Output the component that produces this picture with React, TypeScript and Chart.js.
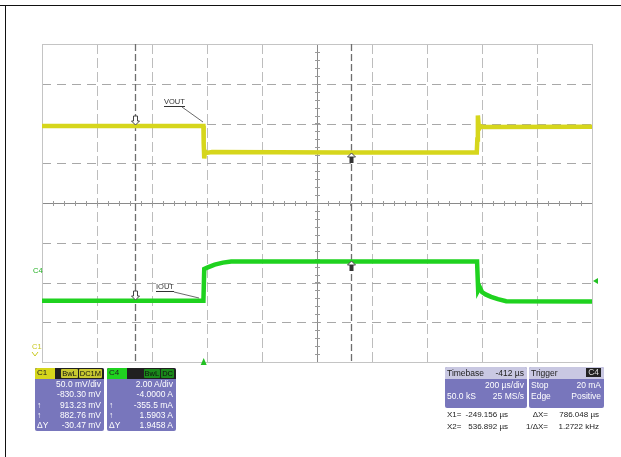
import React, { useEffect, useRef } from "react";
import { Chart, registerables } from "chart.js";

Chart.register(...registerables);

// ---- data (time in µs, level in screen divisions) ----
const timeWindow = [-588, 1412];
const timePerDiv = 200;
const yDivs = [-4, 4];

const yellowTimes = [-588, -1, 0, 2, 5, 10, 30, 500, 993, 995, 997, 1001, 1008, 1020, 1412];
const yellowLevels = [1.94, 1.94, 1.5, 1.12, 1.3, 1.26, 1.28, 1.27, 1.27, 1.6, 2.2, 1.86, 1.93, 1.91, 1.92];

const greenTimes = [-588, -1, 2, 15, 40, 70, 100, 600, 994, 998, 1004, 1012, 1025, 1045, 1070, 1100, 1412];
const greenLevels = [-2.46, -2.46, -1.66, -1.62, -1.55, -1.5, -1.47, -1.47, -1.47, -2.2, -2.12, -2.24, -2.3, -2.36, -2.42, -2.47, -2.48];

const cursorTimes = [-249.156, 536.892];
const triggerTime = [0];

const c1Rows = ["50.0 mV/div", "-830.30 mV", "913.23 mV", "882.76 mV", "-30.47 mV"];
const c4Rows = ["2.00 A/div", "-4.0000 A", "-355.5 mA", "1.5903 A", "1.9458 A"];
const rowLabels = ["", "", "↑", "↑", "ΔY"];
const timebaseRows = ["Timebase", "-412 µs", "", "200 µs/div", "50.0 kS", "25 MS/s"];
const triggerRows = ["Trigger", "C4", "Stop", "20 mA", "Edge", "Positive"];
const cursorReadout = [
  ["X1=", "-249.156 µs", "ΔX=", "786.048 µs"],
  ["X2=", "536.892 µs", "1/ΔX=", "1.2722 kHz"],
];

const YELLOW = "#d6d61c";
const GREEN = "#1fd21f";

function interp(ts: number[], vs: number[], t: number) {
  for (let i = 0; i < ts.length - 1; i++) {
    if (t >= ts[i] && t <= ts[i + 1]) {
      const f = (t - ts[i]) / (ts[i + 1] - ts[i] || 1);
      return vs[i] + f * (vs[i + 1] - vs[i]);
    }
  }
  return vs[vs.length - 1];
}

const gridPlugin = {
  id: "scopeGrid",
  beforeDatasetsDraw(chart: any) {
    const { ctx, chartArea: a, scales } = chart;
    const x = scales.x;
    const y = scales.y;
    ctx.save();
    ctx.lineWidth = 1;
    // dashed verticals
    ctx.strokeStyle = "#bdbdbd";
    ctx.setLineDash([10, 4]);
    for (let k = 1; k < 10; k++) {
      if (k === 5) continue;
      const px = Math.round(x.getPixelForValue(timeWindow[0] + k * timePerDiv)) + 0.5;
      ctx.beginPath();
      ctx.moveTo(px, a.top);
      ctx.lineTo(px, a.bottom);
      ctx.stroke();
    }
    // dashed horizontals
    ctx.strokeStyle = "#a8a8a8";
    ctx.setLineDash([9, 6]);
    for (let d = yDivs[0] + 1; d < yDivs[1]; d++) {
      if (d === 0) continue;
      const py = Math.round(y.getPixelForValue(d)) + 0.5;
      ctx.beginPath();
      ctx.moveTo(a.left, py);
      ctx.lineTo(a.right, py);
      ctx.stroke();
    }
    ctx.setLineDash([]);
    // centre axes
    ctx.strokeStyle = "#8a8a8a";
    const cx = Math.round(x.getPixelForValue((timeWindow[0] + timeWindow[1]) / 2)) + 0.5;
    const cy = Math.round(y.getPixelForValue(0)) + 0.5;
    ctx.beginPath();
    ctx.moveTo(cx, a.top);
    ctx.lineTo(cx, a.bottom);
    ctx.moveTo(a.left, cy);
    ctx.lineTo(a.right, cy);
    ctx.stroke();
    // minor ticks
    ctx.strokeStyle = "#9a9a9a";
    ctx.beginPath();
    for (let d = yDivs[0]; d <= yDivs[1] + 1e-6; d += 0.2) {
      const py = Math.round(y.getPixelForValue(d)) + 0.5;
      ctx.moveTo(cx - 2.5, py);
      ctx.lineTo(cx + 2.5, py);
    }
    for (let t = timeWindow[0]; t <= timeWindow[1] + 1e-6; t += timePerDiv / 5) {
      const px = Math.round(x.getPixelForValue(t)) + 0.5;
      ctx.moveTo(px, cy - 2.5);
      ctx.lineTo(px, cy + 2.5);
    }
    ctx.stroke();
    // frame
    ctx.strokeStyle = "#c4c4c4";
    ctx.strokeRect(Math.round(a.left) + 0.5, Math.round(a.top) + 0.5, Math.round(a.width), Math.round(a.height));
    // cursors
    ctx.strokeStyle = "#6e6e6e";
    ctx.lineWidth = 1.3;
    ctx.setLineDash([7, 3]);
    cursorTimes.forEach((t) => {
      const px = Math.round(x.getPixelForValue(t)) + 0.5;
      ctx.beginPath();
      ctx.moveTo(px, a.top);
      ctx.lineTo(px, a.bottom);
      ctx.stroke();
    });
    ctx.restore();
  },
  afterDatasetsDraw(chart: any) {
    const { ctx, scales } = chart;
    const x = scales.x;
    const y = scales.y;
    ctx.save();
    ctx.lineWidth = 1;
    ctx.strokeStyle = "#444";
    ctx.fillStyle = "#ffffff";
    const traces = [
      [yellowTimes, yellowLevels],
      [greenTimes, greenLevels],
    ];
    cursorTimes.forEach((t, ci) => {
      traces.forEach(([ts, vs]) => {
        const px = Math.round(x.getPixelForValue(t)) + 0.5;
        const py = Math.round(y.getPixelForValue(interp(ts, vs, t)));
        if (ci === 0) {
          ctx.beginPath();
          ctx.moveTo(px - 2, py - 10);
          ctx.lineTo(px + 2, py - 10);
          ctx.lineTo(px + 2, py - 5);
          ctx.lineTo(px + 4, py - 5);
          ctx.lineTo(px, py - 1);
          ctx.lineTo(px - 4, py - 5);
          ctx.lineTo(px - 2, py - 5);
          ctx.closePath();
          ctx.fill();
          ctx.stroke();
        } else {
          ctx.beginPath();
          ctx.moveTo(px, py);
          ctx.lineTo(px + 4, py + 4);
          ctx.lineTo(px - 4, py + 4);
          ctx.closePath();
          ctx.fill();
          ctx.stroke();
          ctx.fillStyle = "#333";
          ctx.fillRect(px - 2, py + 4, 4, 6);
          ctx.fillStyle = "#ffffff";
        }
      });
    });
    // trigger marker at bottom
    const tx = x.getPixelForValue(triggerTime[0]);
    const by = chart.chartArea.bottom;
    ctx.fillStyle = "#22c022";
    ctx.beginPath();
    ctx.moveTo(tx, by - 4);
    ctx.lineTo(tx + 3, by + 3);
    ctx.lineTo(tx - 3, by + 3);
    ctx.closePath();
    ctx.fill();
    ctx.restore();
  },
};

const txt: React.CSSProperties = {
  position: "absolute",
  fontFamily: "'Liberation Sans', Arial, sans-serif",
  fontSize: 8.5,
  lineHeight: "10px",
  whiteSpace: "nowrap",
};

function ChannelPanel(props: { left: number; name: string; color: string; tags: string[]; rows: string[] }) {
  const { left, name, color, tags, rows } = props;
  return (
    <div style={{ position: "absolute", left, top: 368, width: 69, height: 63, background: "#7876bc", borderRadius: 2, overflow: "hidden" }}>
      <div style={{ position: "absolute", left: 0, top: 0, width: 69, height: 11, background: "#202020" }} />
      <div style={{ ...txt, left: 0, top: 0, width: 18, height: 11, background: color, color: "#222", paddingLeft: 2, fontSize: 8 }}>{name}</div>
      <div style={{ position: "absolute", right: 2, top: 1, display: "flex", gap: 1 }}>
        {tags.map((t, i) => (
          <span key={i} style={{ fontFamily: "'Liberation Sans', sans-serif", fontSize: 7.5, lineHeight: "9px", color: "#111", background: color === YELLOW ? "#c8c830" : "#1a8a1a", padding: "0 1px", borderRadius: 1 }}>{t}</span>
        ))}
      </div>
      {rows.map((r, i) => (
        <React.Fragment key={i}>
          {rowLabels[i] ? <div style={{ ...txt, left: 2, top: 11 + i * 10.3, color: "#ffffff" }}>{rowLabels[i]}</div> : null}
          <div style={{ ...txt, right: 3, top: 11 + i * 10.3, color: "#ffffff" }}>{r}</div>
        </React.Fragment>
      ))}
    </div>
  );
}

export default function App() {
  const ref = useRef<HTMLCanvasElement | null>(null);
  useEffect(() => {
    if (!ref.current) return;
    const chart = new Chart(ref.current, {
      type: "line",
      data: {
        datasets: [
          {
            label: "C1",
            data: yellowTimes.map((t, i) => ({ x: t, y: yellowLevels[i] })),
            borderColor: YELLOW,
            borderWidth: 4.5,
            pointRadius: 0,
            tension: 0,
          },
          {
            label: "C4",
            data: greenTimes.map((t, i) => ({ x: t, y: greenLevels[i] })),
            borderColor: GREEN,
            borderWidth: 4.5,
            pointRadius: 0,
            tension: 0,
          },
        ],
      },
      options: {
        responsive: false,
        maintainAspectRatio: false,
        animation: false,
        layout: { padding: { left: 42, top: 44, right: 29, bottom: 95 } },
        plugins: { legend: { display: false }, tooltip: { enabled: false } },
        scales: {
          x: { type: "linear", min: timeWindow[0], max: timeWindow[1], display: false },
          y: { min: yDivs[0], max: yDivs[1], display: false },
        },
      },
      plugins: [gridPlugin],
    });
    return () => chart.destroy();
  }, []);

  const ro: React.CSSProperties = { ...txt, fontSize: 8, color: "#222" };

  return (
    <div style={{ position: "absolute", left: 0, top: 0, width: 621, height: 457, background: "#ffffff", overflow: "hidden" }}>
      <div style={{ position: "absolute", left: 0, top: 5, width: 621, height: 1, background: "#111" }} />
      <div style={{ position: "absolute", left: 5, top: 5, width: 1, height: 452, background: "#111" }} />
      <canvas ref={ref} width={621} height={457} style={{ position: "absolute", left: 0, top: 0, width: 621, height: 457 }} />

      {/* trace labels */}
      <div style={{ ...txt, left: 164, top: 98, fontSize: 7.5, color: "#333", borderBottom: "1px solid #333", lineHeight: "8px" }}>VOUT</div>
      <svg style={{ position: "absolute", left: 0, top: 0 }} width={621} height={457}>
        <line x1={182} y1={107} x2={203} y2={122} stroke="#444" strokeWidth={0.8} />
        <line x1={174} y1={292} x2={199} y2={298} stroke="#444" strokeWidth={0.8} />
        <polygon points="598,278 593,281 598,284" fill="#22c022" />
        <polyline points="32,352 35,356 38,352" fill="none" stroke="#c8c820" strokeWidth={1} />
      </svg>
      <div style={{ ...txt, left: 156, top: 283, fontSize: 7.5, color: "#333", borderBottom: "1px solid #333", lineHeight: "8px" }}>IOUT</div>
      <div style={{ ...txt, left: 33, top: 266, fontSize: 7.5, color: "#22b022" }}>C4</div>
      <div style={{ ...txt, left: 32, top: 342, fontSize: 7.5, color: "#c8c820" }}>C1</div>

      <ChannelPanel left={35} name="C1" color={YELLOW} tags={["BwL", "DC1M"]} rows={c1Rows} />
      <ChannelPanel left={107} name="C4" color={GREEN} tags={["BwL", "DC"]} rows={c4Rows} />

      {/* timebase */}
      <div style={{ position: "absolute", left: 445, top: 367, width: 82, height: 41, background: "#7876bc", borderRadius: 2, overflow: "hidden" }}>
        <div style={{ position: "absolute", left: 0, top: 0, width: 82, height: 12, background: "#c9c8e2" }} />
        <div style={{ ...txt, left: 2, top: 1, color: "#222" }}>{timebaseRows[0]}</div>
        <div style={{ ...txt, right: 3, top: 1, color: "#222" }}>{timebaseRows[1]}</div>
        <div style={{ ...txt, right: 3, top: 13, color: "#fff" }}>{timebaseRows[3]}</div>
        <div style={{ ...txt, left: 2, top: 24, color: "#fff" }}>{timebaseRows[4]}</div>
        <div style={{ ...txt, right: 3, top: 24, color: "#fff" }}>{timebaseRows[5]}</div>
      </div>
      {/* trigger */}
      <div style={{ position: "absolute", left: 529, top: 367, width: 75, height: 41, background: "#7876bc", borderRadius: 2, overflow: "hidden" }}>
        <div style={{ position: "absolute", left: 0, top: 0, width: 75, height: 12, background: "#c9c8e2" }} />
        <div style={{ ...txt, left: 2, top: 1, color: "#222" }}>{triggerRows[0]}</div>
        <div style={{ ...txt, right: 3, top: 1, color: "#ddd", background: "#222", padding: "0 2px", lineHeight: "9px" }}>{triggerRows[1]}</div>
        <div style={{ ...txt, left: 2, top: 13, color: "#fff" }}>{triggerRows[2]}</div>
        <div style={{ ...txt, right: 3, top: 13, color: "#fff" }}>{triggerRows[3]}</div>
        <div style={{ ...txt, left: 2, top: 24, color: "#fff" }}>{triggerRows[4]}</div>
        <div style={{ ...txt, right: 3, top: 24, color: "#fff" }}>{triggerRows[5]}</div>
      </div>
      {/* cursor readout */}
      {cursorReadout.map((r, i) => (
        <React.Fragment key={i}>
          <div style={{ ...ro, left: 447, top: 410 + i * 12 }}>{r[0]}</div>
          <div style={{ ...ro, right: 621 - 508, top: 410 + i * 12 }}>{r[1]}</div>
          <div style={{ ...ro, right: 621 - 548, top: 410 + i * 12 }}>{r[2]}</div>
          <div style={{ ...ro, right: 621 - 599, top: 410 + i * 12 }}>{r[3]}</div>
        </React.Fragment>
      ))}
    </div>
  );
}
